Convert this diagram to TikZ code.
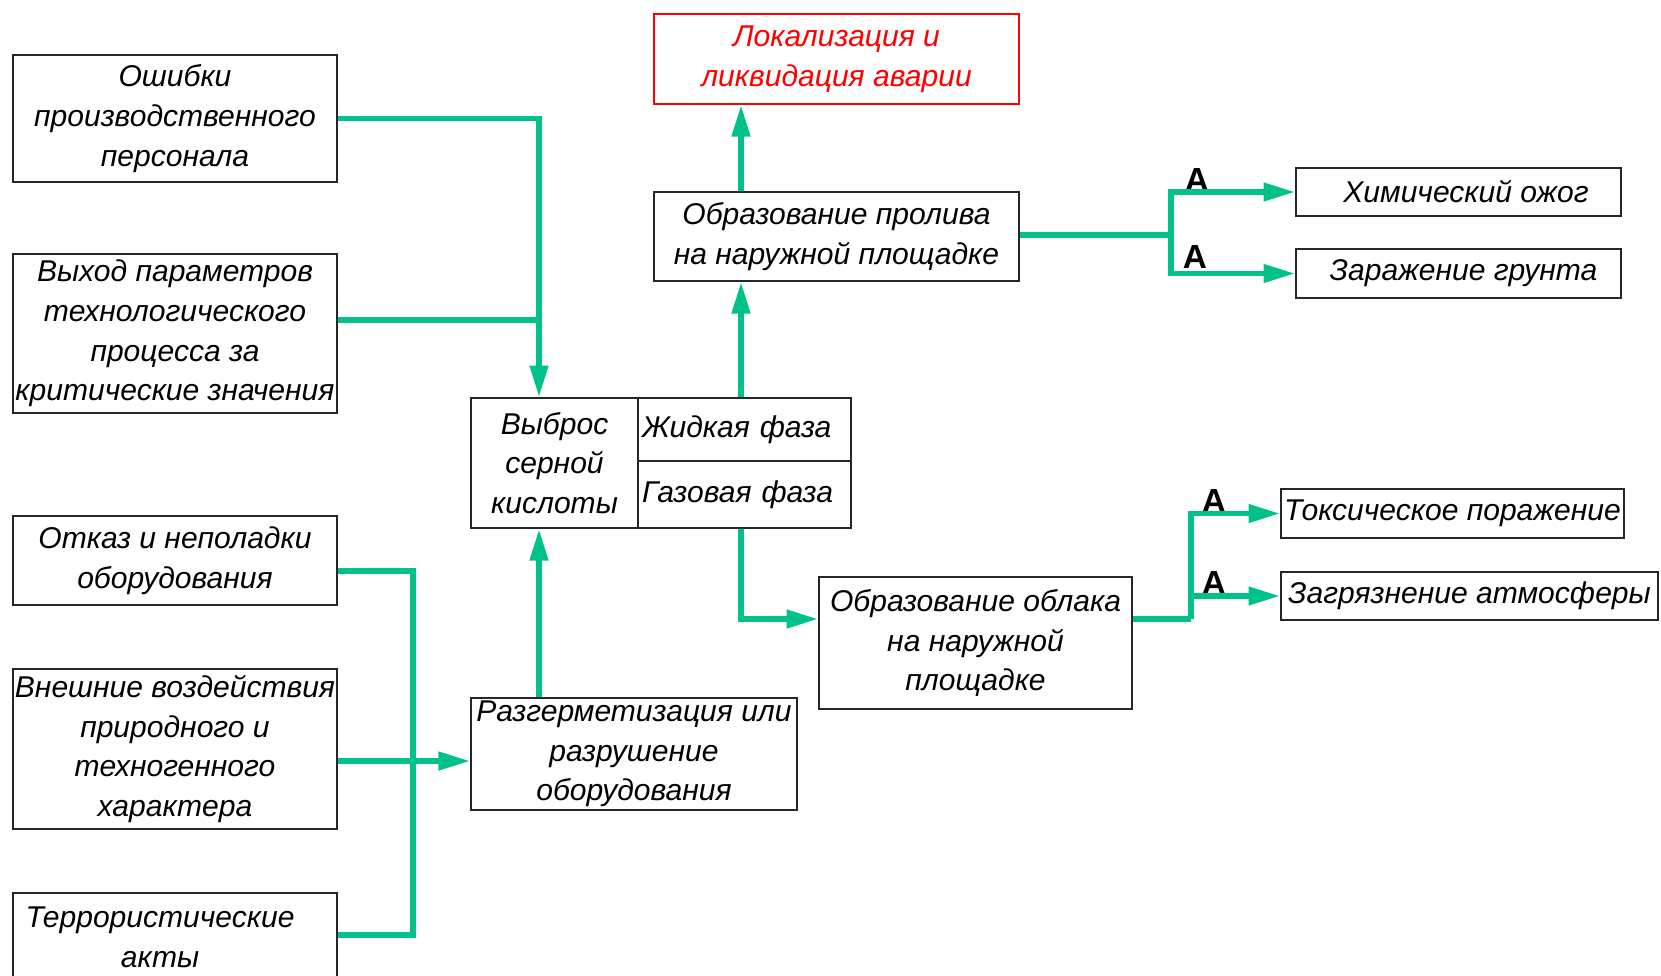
\documentclass[tikz,border=0pt]{standalone}
\usepackage{fontspec}
\setmainfont{Liberation Sans}
\usetikzlibrary{positioning}
\usetikzlibrary{calc}
\usetikzlibrary{arrows.meta}
\definecolor{flowgreen}{RGB}{0,193,138}

\begin{document}
\begin{tikzpicture}[
box/.style={draw=black!85,line width=0.5pt,inner sep=0pt,align=center,font=\itshape\fontsize{8.55}{11.3}\selectfont},
cell/.style={box,align=left,inner xsep=0.04cm,text width=2.05cm},
flow/.style={draw=flowgreen,line width=1.6pt,-{Triangle[length=9pt,width=5pt]}},
bus/.style={draw=flowgreen,line width=1.6pt},
lbl/.style={font=\bfseries\fontsize{9.5}{9.5}\selectfont,inner sep=0pt}]
\useasboundingbox (0,0) rectangle (16.61,-9.75);

% причины
\node[box,minimum width=3.24cm,minimum height=1.27cm](osh) at (1.75,-1.185){Ошибки\\производственного\\персонала};
\node[box,minimum width=3.24cm,minimum height=1.59cm](vyh) at (1.75,-3.335){Выход параметров\\технологического\\процесса за\\критические значения};
\node[box,minimum width=3.24cm,minimum height=0.89cm](otk) at (1.75,-5.605){Отказ и неполадки\\оборудования};
\node[box,minimum width=3.24cm,minimum height=1.60cm](vne) at (1.75,-7.49){Внешние воздействия\\природного и\\техногенного\\характера};
\node[box,minimum width=3.24cm,minimum height=0.88cm](ter) at (1.75,-9.37){\hspace*{-0.3cm}Террористические\\\hspace*{-0.3cm}акты};

% выброс
\node[box,minimum width=1.67cm,minimum height=1.30cm](vybros) at (5.545,-4.63){Выброс\\серной\\кислоты};
\node[cell,minimum height=0.63cm](zhid) at (7.445,-4.295){Жидкая фаза};
\node[cell,minimum height=0.67cm](gaz) at (7.445,-4.945){Газовая фаза};
\node[box,minimum width=3.26cm,minimum height=1.12cm](razg) at (6.34,-7.54){Разгерметизация или\\разрушение\\оборудования};

% последствия
\node[box,draw=red,text=red,minimum width=3.65cm,minimum height=0.90cm](lok) at (8.365,-0.59){Локализация и\\ликвидация аварии};
\node[box,minimum width=3.65cm,minimum height=0.89cm](prol) at (8.365,-2.365){Образование пролива\\на наружной площадке};
\node[box,minimum width=3.13cm,minimum height=1.32cm](obl) at (9.755,-6.43){Образование облака\\на наружной\\площадке};
\node[box,minimum width=3.25cm,minimum height=0.48cm](him) at (14.585,-1.92){\hspace*{0.15cm}Химический ожог};
\node[box,minimum width=3.25cm,minimum height=0.49cm](zar) at (14.585,-2.735){\hspace*{0.1cm}Заражение грунта};
\node[box,minimum width=3.43cm,minimum height=0.49cm](tox) at (14.525,-5.135){Токсическое поражение};
\node[box,minimum width=3.77cm,minimum height=0.48cm](zag) at (14.695,-5.96){Загрязнение атмосферы};

\node[lbl](a1) at (11.97,-1.80){A};
\node[lbl](a2) at (11.95,-2.57){A};
\node[lbl](a3) at (12.14,-5.01){A};
\node[lbl](a4) at (12.14,-5.83){A};

% узлы
\coordinate (j1) at (5.39,-3.20);
\coordinate (j2) at (11.71,-2.35);
\coordinate (j3) at (4.13,-7.61);
\coordinate (j3a) at (4.13,-5.71);
\coordinate (j3b) at (4.13,-9.35);
\coordinate (j4) at (11.91,-6.19);
\coordinate (cx) at (7.41,-6.19);

\draw[flow] (osh.east) -| (vybros.north -| j1);
\draw[bus] (vyh.east |- j1) -- (j1);
\draw[bus] (otk.east |- j3a) -- (j3a) -- (j3b) -- (ter.east |- j3b);
\draw[flow] (vne.east |- j3) -- (razg.west |- j3);
\draw[flow] (razg.north -| j1) -- (vybros.south -| j1);
\draw[flow] (zhid.north -| cx) -- (prol.south -| cx);
\draw[flow] (prol.north -| cx) -- (lok.south -| cx);
\draw[flow] (gaz.south -| cx) -- (cx) -- (obl.west |- cx);
\draw[bus] (prol.east |- j2) -- (j2);
\draw[flow] (j2) |- (him.west);
\draw[flow] (j2) |- (zar.west);
\draw[bus] (obl.east |- j4) -- (j4);
\draw[flow] (j4) |- (tox.west);
\draw[flow] (j4) |- (zag.west);
\end{tikzpicture}
\end{document}
